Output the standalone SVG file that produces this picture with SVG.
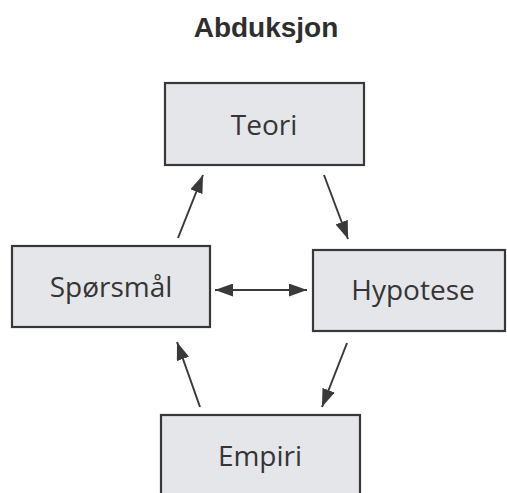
<svg xmlns="http://www.w3.org/2000/svg" width="507" height="493" viewBox="0 0 507 493">
<defs>
<style>
.box{fill:#e5e6ea;stroke:#383838;stroke-width:2.2}
.lbl{font-family:"Open Sans","Noto Sans",sans-serif;font-size:28px;fill:#353535;text-anchor:middle}
.title{font-family:"Liberation Sans",Arial,sans-serif;font-weight:bold;font-size:28px;fill:#2e2e2e;text-anchor:middle}
.edge{stroke:#3a3a3a;stroke-width:2;fill:none}
</style>
<marker id="ah" viewBox="0 0 18 13" refX="18" refY="6.5" markerWidth="18" markerHeight="13" markerUnits="userSpaceOnUse" orient="auto-start-reverse">
<path d="M0,0 L18,6.5 L0,13 Z" fill="#3a3a3a"/>
</marker>
</defs>
<rect width="507" height="493" fill="#fff"/>
<text class="title" x="266" y="37">Abduksjon</text>
<g id="teori"><rect class="box" x="165" y="83" width="199" height="82"/><text class="lbl" x="264" y="135">Teori</text></g>
<g id="sporsmal"><rect class="box" x="12" y="246" width="198" height="81"/><text class="lbl" x="111" y="297">Spørsmål</text></g>
<g id="hypotese"><rect class="box" x="313" y="250" width="192" height="81"/><text class="lbl" x="413" y="300">Hypotese</text></g>
<g id="empiri"><rect class="box" x="161" y="415" width="199" height="90"/><text class="lbl" x="260" y="466">Empiri</text></g>
<g id="connectors">
<line class="edge" x1="178" y1="238" x2="203" y2="175" marker-end="url(#ah)"/>
<line class="edge" x1="324" y1="175" x2="348" y2="239" marker-end="url(#ah)"/>
<line class="edge" x1="215" y1="290" x2="307" y2="290" marker-start="url(#ah)" marker-end="url(#ah)"/>
<line class="edge" x1="347" y1="343" x2="322" y2="407" marker-end="url(#ah)"/>
<line class="edge" x1="200" y1="407" x2="177" y2="342" marker-end="url(#ah)"/>
</g>
</svg>
